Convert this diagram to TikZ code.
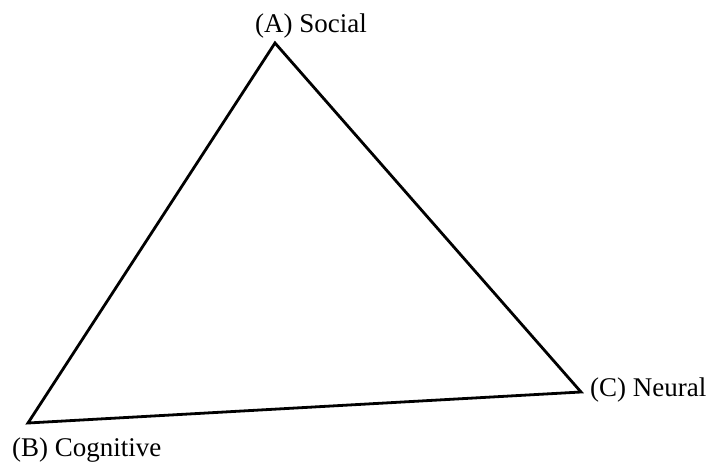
\documentclass[tikz,border=0pt]{standalone}
\usepackage{fontspec}
\setmainfont{Liberation Serif}
\begin{document}
\begin{tikzpicture}[x=1pt,y=-1pt,
  lbl/.style={inner sep=0pt,anchor=base west,font=\fontsize{27}{31}\selectfont},
  edge/.style={line width=2.8pt,line join=miter}]
\useasboundingbox (0,0) rectangle (708,462);
\coordinate (A) at (275,43);
\coordinate (B) at (28,423);
\coordinate (C) at (581,392);
\draw[edge] (A) -- (B) -- (C) -- cycle;
\node[lbl] (la) at (255,33) {(A) Social};
\node[lbl] (lb) at (12,456) {(B) Cognitive};
\node[lbl] (lc) at (590,396) {(C) Neural};
\end{tikzpicture}
\end{document}
